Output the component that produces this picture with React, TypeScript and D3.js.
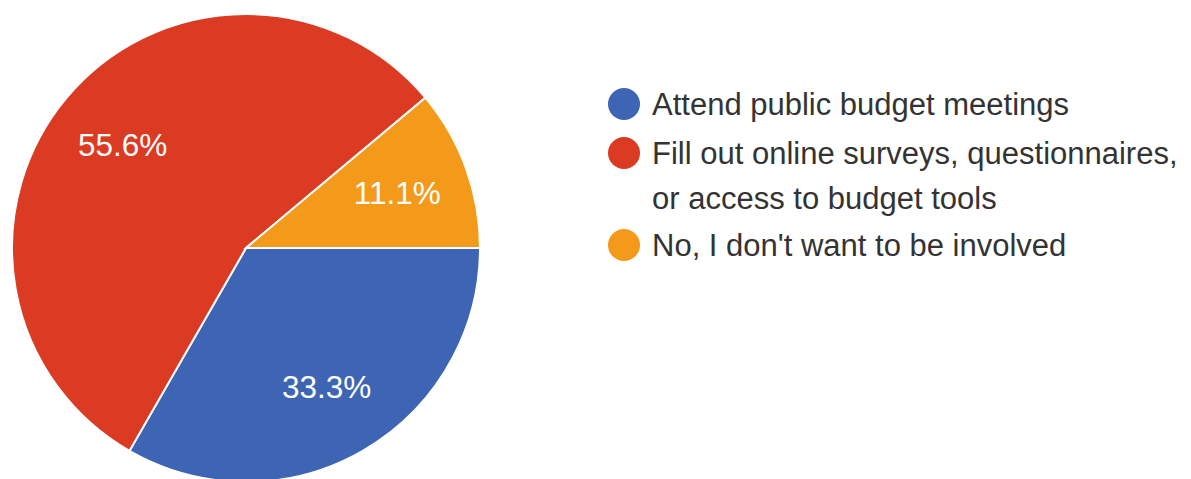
import React, { useEffect, useRef } from 'react';
import * as d3 from 'd3';

const categories = [
  'Attend public budget meetings',
  'Fill out online surveys, questionnaires, or access to budget tools',
  "No, I don't want to be involved",
];
const legendLines = [
  ['Attend public budget meetings'],
  ['Fill out online surveys, questionnaires,', 'or access to budget tools'],
  ["No, I don't want to be involved"],
];
const values = [33.3, 55.6, 11.1];
const colors = ['#3e65b3', '#db3a23', '#f39a1b'];

const W = 1191;
const H = 479;

export default function App() {
  const svgRef = useRef<SVGSVGElement>(null);

  useEffect(() => {
    if (!svgRef.current) return;
    const svg = d3.select(svgRef.current);
    svg.selectAll('*').remove();

    const cx = 246;
    const cy = 248;
    const r = 234;

    const pie = d3.pie<number>()
      .sort(null)
      .startAngle(Math.PI / 2)
      .endAngle(Math.PI / 2 + 2 * Math.PI);
    const arcs = pie(values);

    const arc = d3.arc<d3.PieArcDatum<number>>().innerRadius(0).outerRadius(r);
    const labelArc = d3.arc<d3.PieArcDatum<number>>().innerRadius(161).outerRadius(161);

    const g = svg.append('g').attr('transform', `translate(${cx},${cy})`);

    g.selectAll('path.slice')
      .data(arcs)
      .join('path')
      .attr('class', 'slice')
      .attr('d', arc)
      .attr('fill', (d, i) => colors[i])
      .attr('stroke', '#ffffff')
      .attr('stroke-width', 2);

    g.selectAll('text.pct')
      .data(arcs)
      .join('text')
      .attr('class', 'pct')
      .attr('x', d => labelArc.centroid(d)[0])
      .attr('y', d => labelArc.centroid(d)[1])
      .attr('text-anchor', 'middle')
      .attr('dominant-baseline', 'central')
      .attr('fill', '#ffffff')
      .attr('font-family', 'Liberation Sans, Arial, sans-serif')
      .attr('font-size', 31.5)
      .text(d => d.data.toFixed(1) + '%');

    // legend
    const lx = 624;
    const tx = 652;
    const rowY = [104, 153, 245];
    const lineH = 45;

    const legend = svg.append('g');
    categories.forEach((c, i) => {
      const row = legend.append('g');
      row.append('circle')
        .attr('cx', lx)
        .attr('cy', rowY[i])
        .attr('r', 16)
        .attr('fill', colors[i]);
      legendLines[i].forEach((ln, j) => {
        row.append('text')
          .attr('x', tx)
          .attr('y', rowY[i] + j * lineH)
          .attr('dominant-baseline', 'central')
          .attr('fill', '#333333')
          .attr('font-family', 'Liberation Sans, Arial, sans-serif')
          .attr('font-size', 31)
          .text(ln);
      });
    });
  }, []);

  return (
    <svg
      ref={svgRef}
      width={W}
      height={H}
      style={{ position: 'absolute', left: 0, top: 0, background: '#ffffff' }}
    />
  );
}
